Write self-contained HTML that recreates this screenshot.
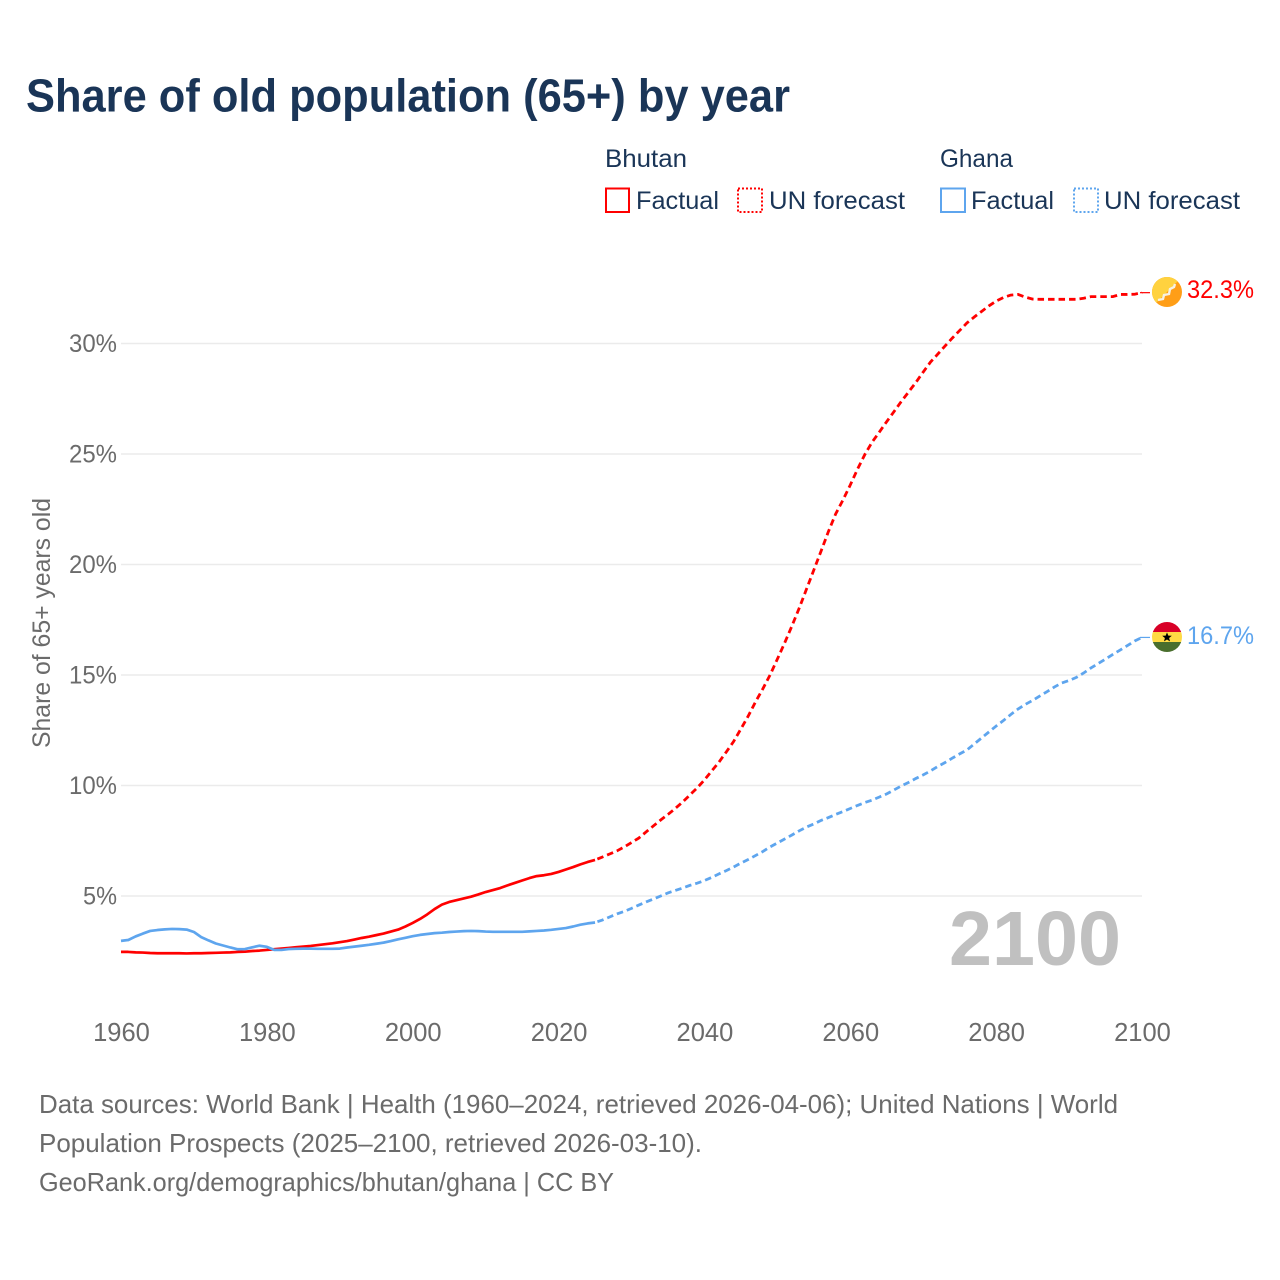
<!DOCTYPE html>
<html lang="en">
<head>
<meta charset="utf-8">
<title>Share of old population (65+) by year</title>
<style>
html,body{margin:0;padding:0;background:#fff;}
body{width:1280px;height:1280px;overflow:hidden;}
svg{display:block;}
text{font-family:"Liberation Sans",sans-serif;}
.legend-text{font-size:25px;fill:#1a3557;}
.source{font-size:26px;fill:#6b6b6b;}
</style>
</head>
<body>
<svg id="chart" xmlns="http://www.w3.org/2000/svg" width="1280" height="1280" viewBox="0 0 1280 1280">
  <rect width="1280" height="1280" fill="#ffffff"/>
  <text x="26" y="111.5" font-size="46" font-weight="700" fill="#1a3557" textLength="764" lengthAdjust="spacingAndGlyphs">Share of old population (65+) by year</text>

  <g>
    <text class="legend-text" x="605" y="167" textLength="82" lengthAdjust="spacingAndGlyphs">Bhutan</text>
    <rect x="606" y="188.5" width="23" height="23.5" fill="none" stroke="#ff0000" stroke-width="2"/>
    <text class="legend-text" x="636" y="209" textLength="83" lengthAdjust="spacingAndGlyphs">Factual</text>
    <rect x="738" y="188.5" width="24" height="23.5" fill="none" stroke="#ff0000" stroke-width="2" stroke-dasharray="2 2"/>
    <text class="legend-text" x="769" y="209" textLength="136" lengthAdjust="spacingAndGlyphs">UN forecast</text>

    <text class="legend-text" x="940" y="167" textLength="73" lengthAdjust="spacingAndGlyphs">Ghana</text>
    <rect x="941" y="188.5" width="24" height="23.5" fill="none" stroke="#5ea5ee" stroke-width="2"/>
    <text class="legend-text" x="971" y="209" textLength="83" lengthAdjust="spacingAndGlyphs">Factual</text>
    <rect x="1074" y="188.5" width="24" height="23.5" fill="none" stroke="#5ea5ee" stroke-width="2" stroke-dasharray="2 2"/>
    <text class="legend-text" x="1104" y="209" textLength="136" lengthAdjust="spacingAndGlyphs">UN forecast</text>
  </g>

  <g id="grid"></g>
  <g id="y-ticks"></g>
  <g id="x-ticks"></g>
  <text transform="translate(50 623) rotate(-90)" text-anchor="middle" font-size="25" fill="#6b6b6b" textLength="250" lengthAdjust="spacingAndGlyphs">Share of 65+ years old</text>
  <text x="949" y="965" font-size="77" font-weight="700" fill="#c0c0c0" textLength="172" lengthAdjust="spacingAndGlyphs">2100</text>

  <g id="series"></g>

  <g id="bhutan-flag">
    <defs>
      <clipPath id="bt-clip"><circle cx="1167" cy="292" r="15"/></clipPath>
      <clipPath id="gh-clip"><circle cx="1167" cy="637" r="15"/></clipPath>
    </defs>
    <g clip-path="url(#bt-clip)">
      <rect x="1152" y="277" width="30" height="30" fill="#ff9e17"/>
      <polygon points="1152,277 1182,277 1152,307" fill="#ffd23f"/>
      <path d="M1158 300 L1163 299 L1164 295 L1169 294 L1170 289 L1174 287 L1175 284" fill="none" stroke="#f6f1e4" stroke-width="2.4"/>
    </g>
  </g>
  <g id="ghana-flag">
    <g clip-path="url(#gh-clip)">
      <rect x="1152" y="622" width="30" height="10" fill="#d80027"/>
      <rect x="1152" y="632" width="30" height="10" fill="#ffda44"/>
      <rect x="1152" y="642" width="30" height="10" fill="#496e2d"/>
      <polygon points="1167,632.4 1168.3,635.6 1171.8,635.8 1169.1,638 1170,641.4 1167,639.5 1164,641.4 1164.9,638 1162.2,635.8 1165.7,635.6" fill="#000000"/>
    </g>
  </g>
  <text id="bhutan-end-label" x="1187" y="298" font-size="25" fill="#ff0000" textLength="67" lengthAdjust="spacingAndGlyphs"></text>
  <text id="ghana-end-label" x="1187" y="644" font-size="25" fill="#5ea5ee" textLength="67" lengthAdjust="spacingAndGlyphs"></text>

  <g>
    <text class="source" x="39" y="1113" textLength="1079" lengthAdjust="spacingAndGlyphs">Data sources: World Bank | Health (1960–2024, retrieved 2026-04-06); United Nations | World</text>
    <text class="source" x="39" y="1152" textLength="663" lengthAdjust="spacingAndGlyphs">Population Prospects (2025–2100, retrieved 2026-03-10).</text>
    <text class="source" x="39" y="1191" textLength="575" lengthAdjust="spacingAndGlyphs">GeoRank.org/demographics/bhutan/ghana | CC BY</text>
  </g>
</svg>

<script>
const firstYear = 1960;
const lastFactualYear = 2025;
const xTickLabels = ["1960","1980","2000","2020","2040","2060","2080","2100"];
const yTickValues = [5,10,15,20,25,30];
const bhutanValues = [
2.47,2.47,2.45,2.44,2.42,2.41,2.41,2.41,2.41,2.40,
2.41,2.41,2.42,2.43,2.44,2.45,2.47,2.48,2.51,2.53,
2.56,2.59,2.62,2.65,2.68,2.71,2.74,2.78,2.82,2.86,
2.91,2.96,3.03,3.10,3.16,3.23,3.30,3.39,3.48,3.62,
3.78,3.96,4.17,4.41,4.61,4.73,4.81,4.89,4.97,5.07,
5.18,5.27,5.36,5.48,5.59,5.70,5.81,5.90,5.94,6.00,
6.09,6.20,6.31,6.43,6.54,6.63,6.76,6.90,7.04,7.22,
7.42,7.62,7.90,8.17,8.44,8.69,8.96,9.25,9.57,9.89,
10.25,10.66,11.06,11.52,11.99,12.56,13.14,13.78,14.37,15.00,
15.72,16.45,17.22,18.03,18.89,19.75,20.61,21.49,22.29,22.92,
23.60,24.32,24.98,25.54,26.00,26.47,26.92,27.38,27.81,28.24,
28.71,29.16,29.52,29.89,30.25,30.59,30.93,31.20,31.45,31.70,
31.92,32.08,32.19,32.22,32.10,32.01,32.00,32.00,32.00,32.00,
32.00,32.00,32.05,32.12,32.12,32.12,32.12,32.22,32.22,32.23,
32.30];
const ghanaValues = [
2.97,3.01,3.17,3.30,3.42,3.46,3.49,3.51,3.50,3.48,
3.37,3.14,2.99,2.85,2.76,2.67,2.59,2.60,2.68,2.75,
2.70,2.56,2.56,2.60,2.61,2.62,2.62,2.61,2.61,2.61,
2.62,2.67,2.71,2.75,2.79,2.84,2.89,2.96,3.04,3.11,
3.18,3.24,3.28,3.32,3.34,3.37,3.39,3.41,3.42,3.41,
3.39,3.38,3.38,3.38,3.38,3.38,3.40,3.42,3.44,3.47,
3.51,3.55,3.62,3.70,3.76,3.80,3.91,4.05,4.19,4.30,
4.44,4.59,4.73,4.86,5.00,5.14,5.25,5.36,5.48,5.58,
5.70,5.84,6.00,6.15,6.31,6.49,6.65,6.83,7.01,7.22,
7.40,7.58,7.76,7.95,8.12,8.26,8.42,8.55,8.69,8.82,
8.96,9.10,9.23,9.34,9.48,9.62,9.80,9.98,10.14,10.32,
10.48,10.66,10.86,11.04,11.24,11.43,11.61,11.88,12.15,12.42,
12.69,12.94,13.21,13.46,13.67,13.85,14.05,14.25,14.46,14.64,
14.75,14.89,15.09,15.32,15.52,15.72,15.93,16.13,16.33,16.54,
16.70];

const SVGNS = "http://www.w3.org/2000/svg";
function xScale(year){ return 121 + (year - 1960) * (1021 / 140); }
function yScale(v){ return 1006.5 - v * 22.1; }

const gridG = document.getElementById("grid");
const yG = document.getElementById("y-ticks");
yTickValues.forEach(function(v){
  const ln = document.createElementNS(SVGNS,"line");
  
  
  ln.setAttribute("x1", xScale(1960));
  ln.setAttribute("x2", xScale(2100));
  ln.setAttribute("y1", yScale(v));
  ln.setAttribute("y2", yScale(v));
  ln.setAttribute("stroke", "#ebebeb");
  ln.setAttribute("stroke-width", "1.6");
  gridG.appendChild(ln);

  const label = v + "%";
  const t = document.createElementNS(SVGNS,"text");
  
  
  t.setAttribute("x", 117);
  t.setAttribute("y", yScale(v) + 8.5);
  t.setAttribute("text-anchor", "end");
  t.setAttribute("font-size", "25");
  t.setAttribute("fill", "#6b6b6b");
  t.setAttribute("textLength", 14 * (label.length - 1) + 20);
  t.setAttribute("lengthAdjust", "spacingAndGlyphs");
  t.textContent = label;
  yG.appendChild(t);
});

const xG = document.getElementById("x-ticks");
xTickLabels.forEach(function(lbl){
  const t = document.createElementNS(SVGNS,"text");
  
  
  t.setAttribute("x", xScale(Number(lbl)) + 0.5);
  t.setAttribute("y", 1041);
  t.setAttribute("text-anchor", "middle");
  t.setAttribute("font-size", "25.5");
  t.setAttribute("fill", "#6b6b6b");
  t.textContent = lbl;
  xG.appendChild(t);
});

function pathFor(values, startYear, endYear){
  let d = "";
  for (let yr = startYear; yr <= endYear; yr++){
    const v = values[yr - firstYear];
    d += (d ? "L" : "M") + xScale(yr).toFixed(2) + " " + yScale(v).toFixed(2);
  }
  return d;
}

const seriesG = document.getElementById("series");
function drawSeries(values, color, key){
  const lastYear = firstYear + values.length - 1;
  const factual = document.createElementNS(SVGNS,"path");
  
  
  factual.setAttribute("d", pathFor(values, firstYear, lastFactualYear));
  factual.setAttribute("fill", "none");
  factual.setAttribute("stroke", color);
  factual.setAttribute("stroke-width", "2.7");
  factual.setAttribute("stroke-linejoin", "round");
  factual.setAttribute("data-series", key);
  seriesG.appendChild(factual);

  const forecast = document.createElementNS(SVGNS,"path");
  
  
  forecast.setAttribute("d", pathFor(values, lastFactualYear, lastYear));
  forecast.setAttribute("fill", "none");
  forecast.setAttribute("stroke", color);
  forecast.setAttribute("stroke-width", "2.8");
  forecast.setAttribute("stroke-dasharray", "6.5 4");
  forecast.setAttribute("stroke-dashoffset", "8");
  forecast.setAttribute("data-series", key);
  seriesG.appendChild(forecast);

  const endV = values[values.length - 1];
  const conn = document.createElementNS(SVGNS,"line");
  
  
  conn.setAttribute("x1", xScale(lastYear) - 2);
  conn.setAttribute("x2", xScale(lastYear) + 8);
  conn.setAttribute("y1", yScale(endV));
  conn.setAttribute("y2", yScale(endV));
  conn.setAttribute("stroke", color);
  conn.setAttribute("stroke-width", "1.2");
  conn.setAttribute("data-series", key);
  seriesG.appendChild(conn);
}
drawSeries(bhutanValues, "#ff0000", "bhutan");
drawSeries(ghanaValues, "#5ea5ee", "ghana");

document.getElementById("bhutan-end-label").textContent = bhutanValues[bhutanValues.length - 1].toFixed(1) + "%";
document.getElementById("ghana-end-label").textContent = ghanaValues[ghanaValues.length - 1].toFixed(1) + "%";
</script>
</body>
</html>
